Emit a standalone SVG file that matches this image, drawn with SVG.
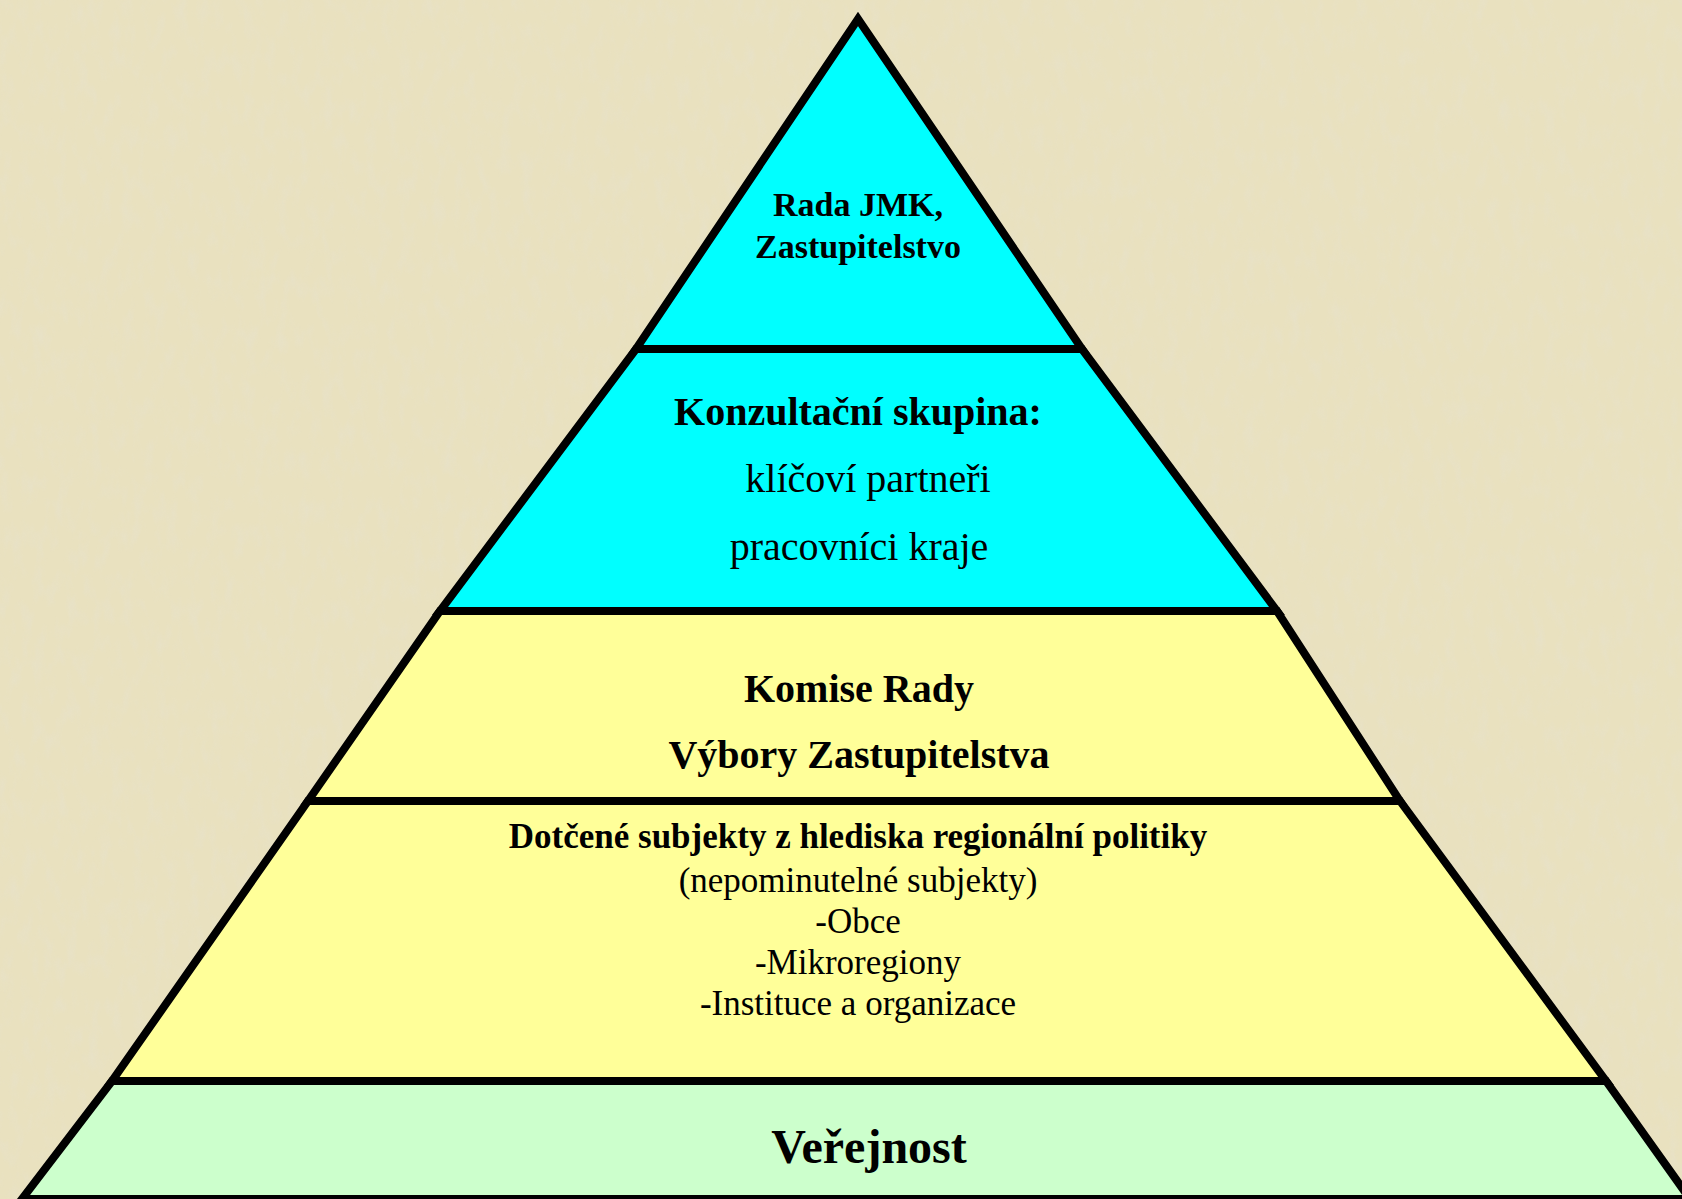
<svg xmlns="http://www.w3.org/2000/svg" width="1682" height="1199" viewBox="0 0 1682 1199">
  <defs>
    <filter id="tex" x="0" y="0" width="100%" height="100%">
      <feTurbulence type="fractalNoise" baseFrequency="0.09 0.04" numOctaves="3" seed="7" result="n"/>
      <feColorMatrix type="matrix" values="0 0 0 0 0.80  0 0 0 0 0.76  0 0 0 0 0.60  2.2 0 0 0 -1.0" />
    </filter>
    <style>
      .layer { stroke: #000; stroke-width: 8; stroke-linejoin: miter; stroke-miterlimit: 10; }
      .cyan { fill: #00FFFF; }
      .yellow { fill: #FFFF99; }
      .green { fill: #CCFFCC; }
      text { font-family: "Liberation Serif", "Times New Roman", serif; fill: #000; text-anchor: middle; }
      .b { font-weight: bold; }
    </style>
  </defs>
  <rect width="1682" height="1199" fill="#E9E1BF"/>
  <rect width="1682" height="1199" filter="url(#tex)" opacity="0.6"/>

  <g id="connectors"></g>

  <g id="layer1">
    <polygon class="layer cyan" points="858,19 636,349 1082,349"/>
    <text class="b" x="858" y="216" font-size="34">Rada JMK,</text>
    <text class="b" x="858" y="258" font-size="34">Zastupitelstvo</text>
  </g>
  <g id="layer2">
    <polygon class="layer cyan" points="636,349 1082,349 1277,611 440,611"/>
    <text class="b" x="858" y="425" font-size="40">Konzultační skupina:</text>
    <text x="868" y="492" font-size="40">klíčoví partneři</text>
    <text x="859" y="560" font-size="40">pracovníci kraje</text>
  </g>
  <g id="layer3">
    <polygon class="layer yellow" points="440,611 1277,611 1400,801 308,801"/>
    <text class="b" x="859" y="702" font-size="40">Komise Rady</text>
    <text class="b" x="859" y="768" font-size="40">Výbory Zastupitelstva</text>
  </g>
  <g id="layer4">
    <polygon class="layer yellow" points="308,801 1400,801 1606,1081 112,1081"/>
    <text class="b" x="858" y="848" font-size="35">Dotčené subjekty z hlediska regionální politiky</text>
    <text x="858" y="892" font-size="35">(nepominutelné subjekty)</text>
    <text x="858" y="933" font-size="35">-Obce</text>
    <text x="858" y="974" font-size="35">-Mikroregiony</text>
    <text x="858" y="1015" font-size="35">-Instituce a organizace</text>
  </g>
  <g id="layer5">
    <polygon class="layer green" points="112,1081 1606,1081 1690,1199 22,1199"/>
    <text class="b" x="869" y="1163" font-size="48">Veřejnost</text>
  </g>
</svg>
